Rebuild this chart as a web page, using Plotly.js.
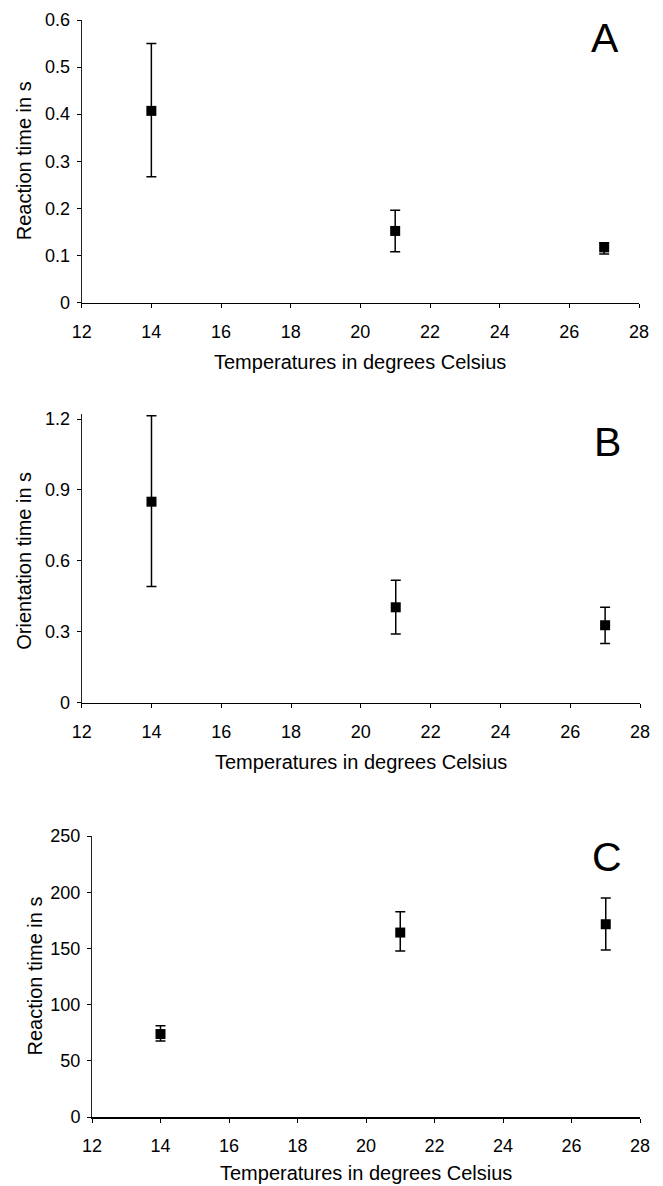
<!DOCTYPE html>
<html>
<head>
<meta charset="utf-8">
<script src="https://cdn.plot.ly/plotly-3.0.1.min.js"></script>
<style>html,body{margin:0;padding:0;background:#fff;}#chart{width:663px;height:1186px;}</style>
</head>
<body>
<div id="chart"></div>
<script>
// Data
const temperatures = [14, 21, 27];

const reactionA = [0.407, 0.152, 0.117];
const reactionA_errPlus = [0.143, 0.044, 0.010];
const reactionA_errMinus = [0.140, 0.044, 0.014];

const orientationB = [0.850, 0.403, 0.327];
const orientationB_errPlus = [0.364, 0.115, 0.076];
const orientationB_errMinus = [0.359, 0.113, 0.077];

const reactionC = [73.8, 164.1, 171.5];
const reactionC_errPlus = [7.4, 18.4, 23.4];
const reactionC_errMinus = [6.2, 16.4, 22.9];

const panelLetters = ["A", "B", "C"];
const yTitles = ["Reaction time in s", "Orientation time in s", "Reaction time in s"];
const xTitle = "Temperatures in degrees Celsius";

const FONT = "Liberation Sans, Arial, Helvetica, sans-serif";
const W = 663, H = 1186;

function trace(y, ep, em, xa, ya) {
  return {
    x: temperatures, y: y, xaxis: xa, yaxis: ya,
    type: 'scatter', mode: 'markers', cliponaxis: false,
    marker: {symbol: 'square', size: 10, color: '#000'},
    error_y: {type: 'data', symmetric: false, array: ep, arrayminus: em,
              color: '#000', thickness: 1.5, width: 5},
    showlegend: false, hoverinfo: 'skip'
  };
}

const data = [
  trace(reactionA, reactionA_errPlus, reactionA_errMinus, 'x', 'y'),
  trace(orientationB, orientationB_errPlus, orientationB_errMinus, 'x2', 'y2'),
  trace(reactionC, reactionC_errPlus, reactionC_errMinus, 'x3', 'y3')
];

// pixel boxes of plot areas (B extended slightly above 1.2 so the top cap shows)
const boxes = [
  {l: 81.7, r: 639, t: 20, b: 302.5},
  {l: 81.7, r: 640, t: 414.3, b: 702.5},
  {l: 92, r: 640, t: 836, b: 1117}
];
const titleBoxes = [
  {l: 81.7, r: 639, t: 20, b: 302.5},
  {l: 81.7, r: 640, t: 419, b: 702.5},
  {l: 92, r: 640, t: 836, b: 1117}
];

function xax(box, anchor) {
  return {
    domain: [box.l / W, box.r / W], anchor: anchor,
    range: [12, 28], dtick: 2, tick0: 12,
    showgrid: false, zeroline: false,
    showline: true, linecolor: '#000', linewidth: 1.5,
    ticks: 'outside', ticklen: 4, tickcolor: '#000', tickwidth: 1,
    ticklabelstandoff: 8,
    tickfont: {family: FONT, size: 18, color: '#000'},
    fixedrange: true
  };
}
function yax(box, anchor, range, dtick) {
  return {
    domain: [1 - box.b / H, 1 - box.t / H], anchor: anchor,
    range: range, dtick: dtick, tick0: 0,
    showgrid: false, zeroline: false,
    showline: true, linecolor: '#222', linewidth: 1,
    ticks: 'outside', ticklen: 4, tickcolor: '#000', tickwidth: 1,
    ticklabelstandoff: 3,
    tickfont: {family: FONT, size: 18, color: '#000'},
    fixedrange: true
  };
}

const annotations = [];
const letterPos = [{x: 605, y: 38}, {x: 607, y: 442}, {x: 607, y: 857}];
const yTitlePos = [24, 24, 34];
const xTitlePos = [362, 762, 1173];
titleBoxes.forEach((b, i) => {
  annotations.push({
    text: panelLetters[i], xref: 'paper', yref: 'paper',
    x: letterPos[i].x / W, y: 1 - letterPos[i].y / H,
    xanchor: 'center', yanchor: 'middle', showarrow: false,
    font: {family: FONT, size: 41, color: '#000'}
  });
  annotations.push({
    text: yTitles[i], xref: 'paper', yref: 'paper',
    x: yTitlePos[i] / W, y: 1 - ((b.t + b.b) / 2) / H,
    xanchor: 'center', yanchor: 'middle', showarrow: false, textangle: -90,
    font: {family: FONT, size: 20, color: '#000'}
  });
  annotations.push({
    text: xTitle, xref: 'paper', yref: 'paper',
    x: ((b.l + b.r) / 2) / W, y: 1 - xTitlePos[i] / H,
    xanchor: 'center', yanchor: 'middle', showarrow: false,
    font: {family: FONT, size: 20, color: '#000'}
  });
});

const layout = {
  width: W, height: H,
  margin: {l: 0, r: 0, t: 0, b: 0},
  paper_bgcolor: '#fff', plot_bgcolor: '#fff',
  xaxis: xax(boxes[0], 'y'),
  yaxis: yax(boxes[0], 'x', [0, 0.6], 0.1),
  xaxis2: xax(boxes[1], 'y2'),
  yaxis2: yax(boxes[1], 'x2', [0, 1.22], 0.3),
  xaxis3: xax(boxes[2], 'y3'),
  yaxis3: yax(boxes[2], 'x3', [0, 250], 50),
  annotations: annotations,
  showlegend: false
};

Plotly.newPlot('chart', data, layout, {displayModeBar: false, staticPlot: true});
</script>
</body>
</html>
